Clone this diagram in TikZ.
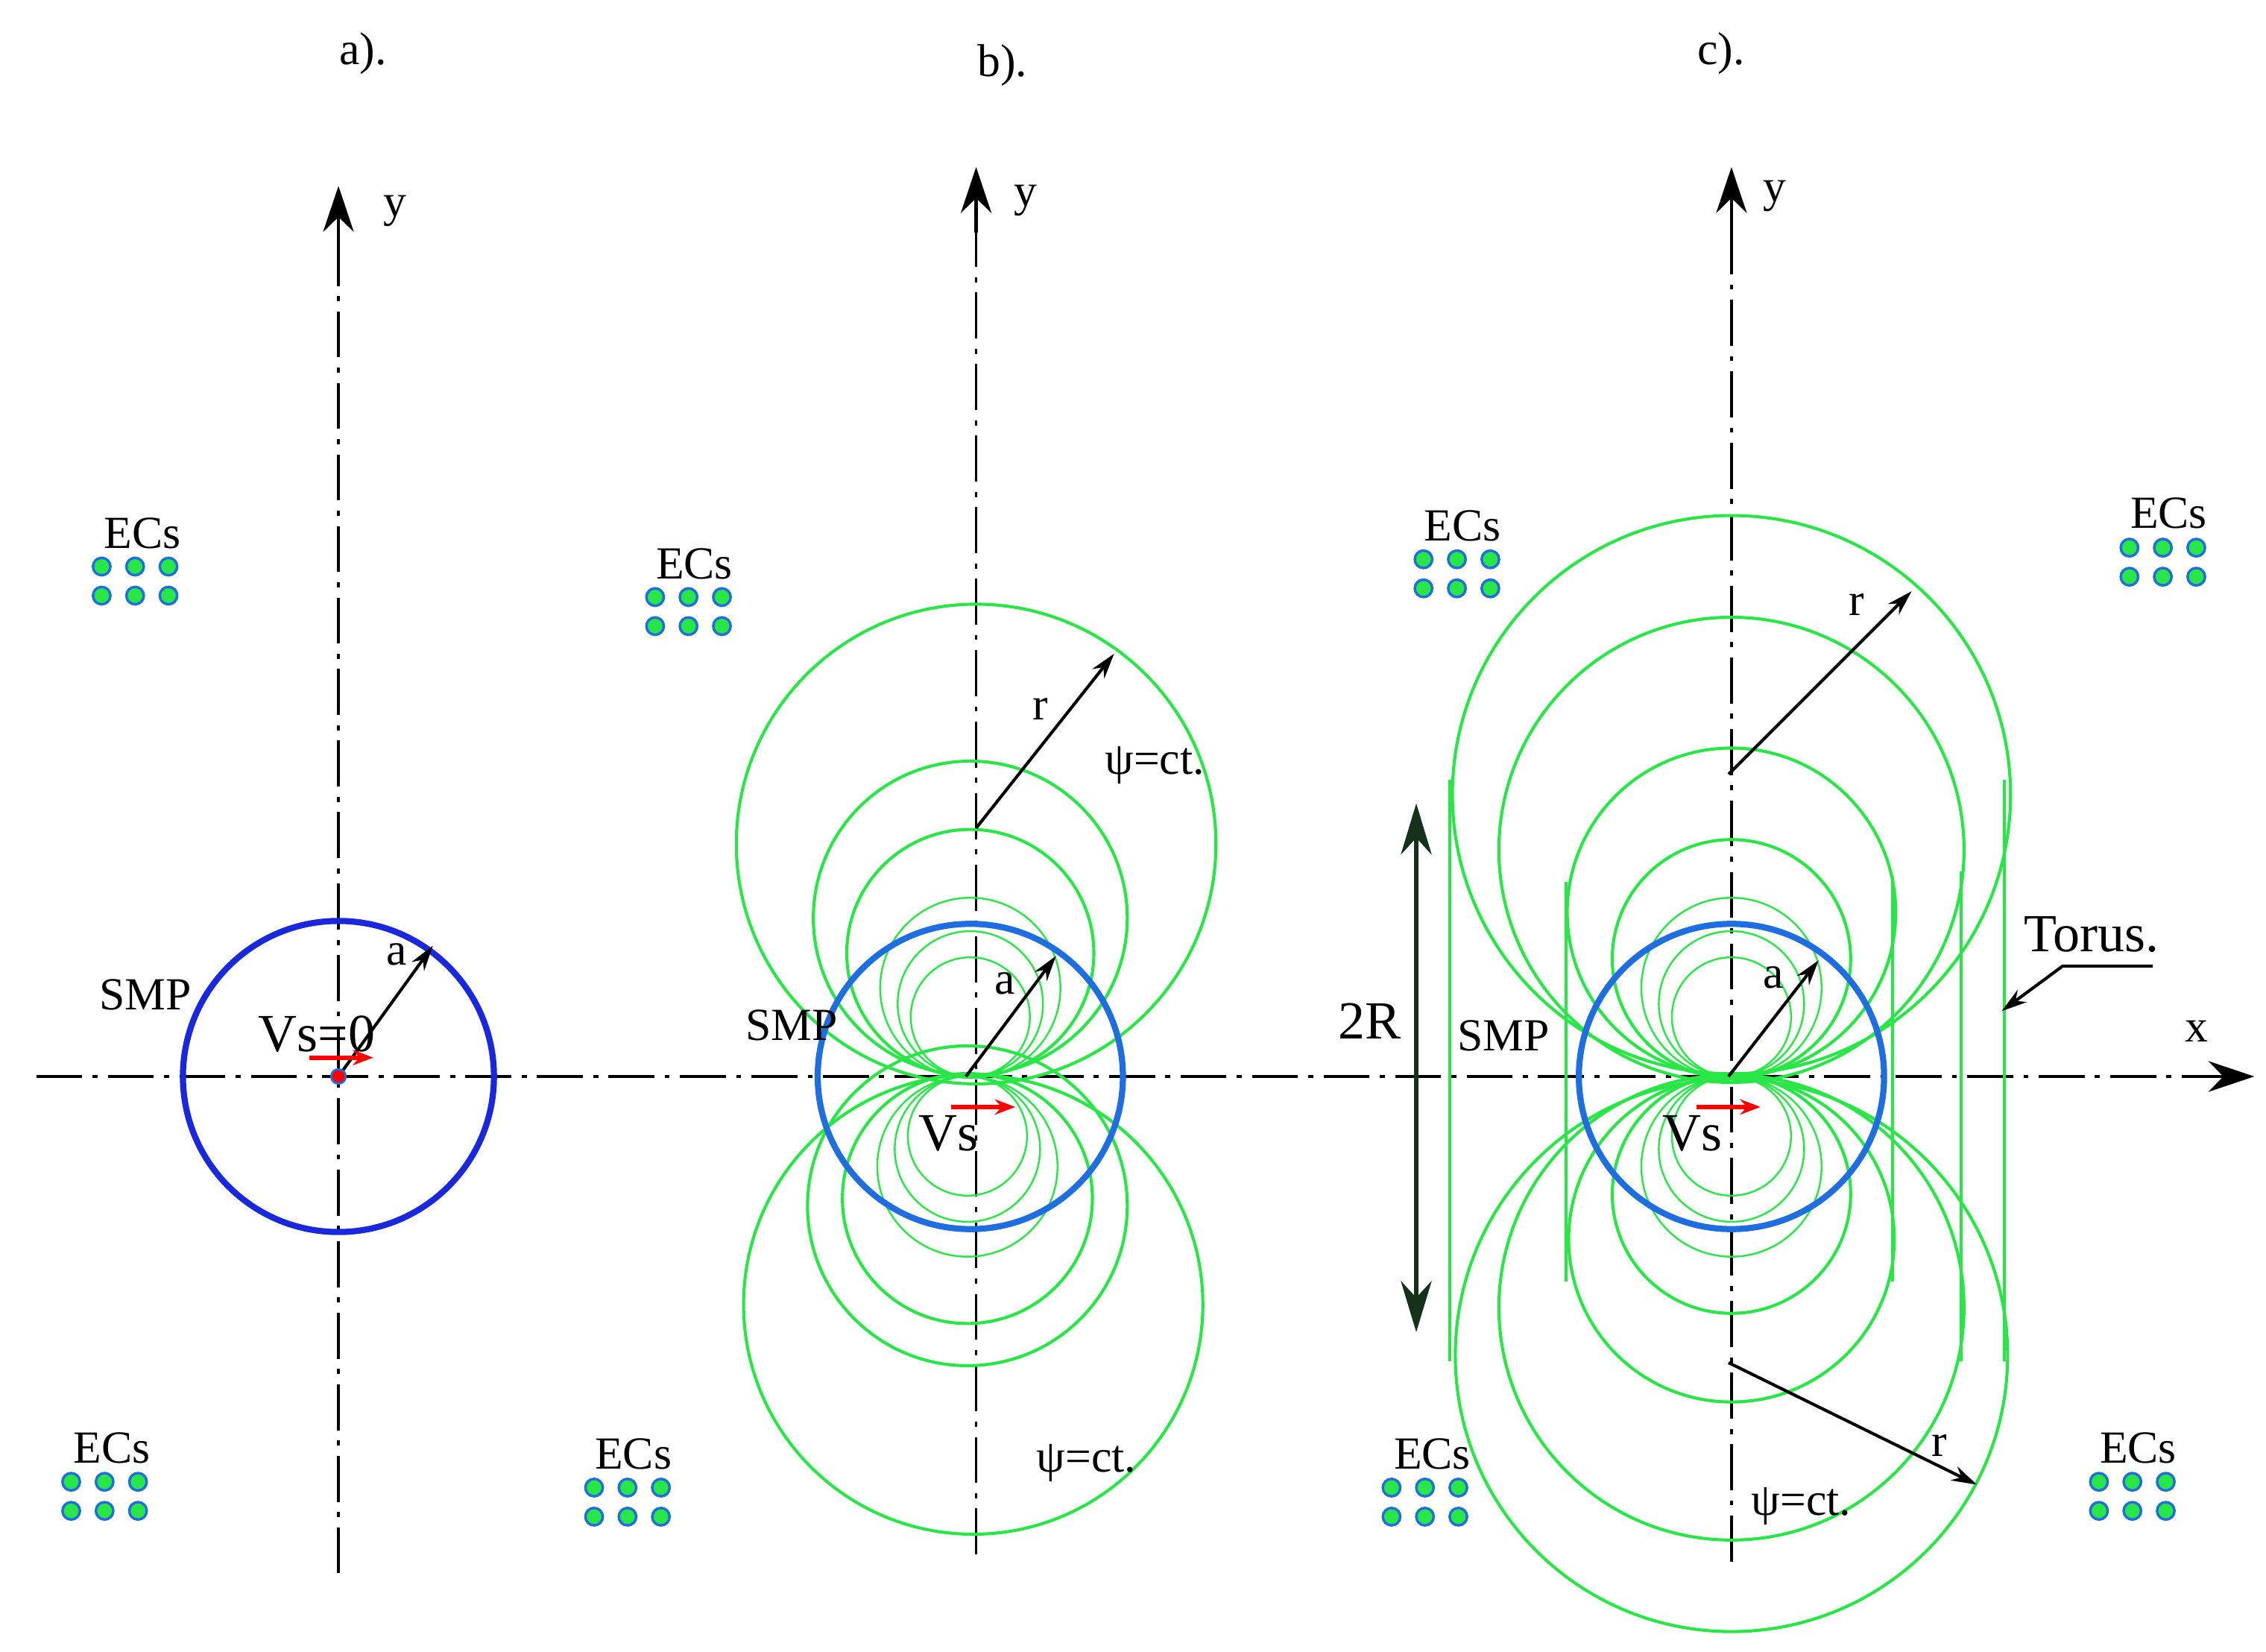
\documentclass[tikz,border=0pt]{standalone}
\usepackage{fontspec}
\setmainfont{Liberation Serif}
\usetikzlibrary{arrows.meta}
\definecolor{gr}{RGB}{40,230,70}
\definecolor{bl}{RGB}{30,110,225}
\definecolor{bld}{RGB}{25,40,220}
\definecolor{dgr}{RGB}{20,50,25}
\begin{document}
\begin{tikzpicture}[x=0.01cm,y=-0.01cm,
  ax/.style={line width=0.5pt,dash pattern=on 9pt off 2pt on 1pt off 2pt},
  tip/.style={-{Stealth[length=9pt,width=6pt]}},
  arr/.style={-{Stealth[length=5pt,width=3pt]},line width=0.6pt},
  red arr/.style={-{Stealth[length=4pt,width=3pt]},red,line width=0.9pt},
  gc/.style={gr,line width=0.6pt},
  gt/.style={gr,line width=0.35pt},
  lab/.style={font=\fontsize{9}{10}\selectfont,inner sep=0},
  big/.style={font=\fontsize{10.5}{12}\selectfont,inner sep=0},
  dot/.style={circle,fill=gr,draw=bl,line width=0.5pt,minimum size=0.12cm,inner sep=0}]
\useasboundingbox (0,0) rectangle (1560,1137);
% ECs
\foreach \n/\lx/\ly/\x/\y in {e1/98/367/70/390, e2/478/388/451/411, e3/77/997/49/1020, e4/436/1001/409/1024, e5/1007/362/980/385, e6/1493/353/1466/377, e7/986/1001/958/1024, e8/1472/997/1445/1020}{
  \node[lab] (\n) at (\lx,\ly) {ECs};
  \foreach \i in {0,1,2}{\foreach \j in {0,1}{
    \node[dot] (\n d\i\j) at (\x+23*\i,\y+20*\j) {};}}
}
% titles
\node[lab] (ta) at (250,37) {a).};
\node[lab] (tb) at (690,45) {b).};
\node[lab] (tc) at (1185,37) {c).};
% x axis
\coordinate (x0) at (25,741); \coordinate (x1) at (1552,741);
\draw[ax] (x0) -- (1515,741);
\draw[tip,line width=0.6pt] (1510,741) -- (x1);
\node[lab] (xl) at (1512,710) {x};
% panel a
\coordinate (ay0) at (233,1083); \coordinate (ay1) at (233,128);
\draw[ax] (ay0) -- (233,165);
\draw[tip,line width=0.6pt] (233,170) -- (ay1);
\node[lab] (yla) at (272,145) {y};
\coordinate (oa) at (233,741);
\draw[bld,line width=1.2pt] (oa) circle[radius=1.07cm];
\coordinate (aa) at (298,651);
\draw[arr] (oa) -- (aa);
\node[lab] (la) at (273,657) {a};
\node[big] (vs0) at (218,712) {Vs=0};
\node[lab] (smpa) at (100,685) {SMP};
\node[circle,fill=red,draw=bl,minimum size=0.1cm,inner sep=0] (da) at (oa) {};
\coordinate (ra0) at (213,728); \coordinate (ra1) at (257,728);
\draw[red arr] (ra0) -- (ra1);
% panel b
\coordinate (by0) at (672,1070); \coordinate (by1) at (672,115);
\draw[ax] (by0) -- (672,155);
\draw[tip,line width=0.6pt] (672,160) -- (by1);
\node[lab] (ylb) at (706,138) {y};
\coordinate (ob) at (668,741);
\draw[gc] (672,581) circle[radius=1.65cm];
\draw[gc] (668,632) circle[radius=1.08cm];
\draw[gc] (668,656) circle[radius=0.85cm];
\draw[gt] (668,680) circle[radius=0.62cm];
\draw[gt] (668,691) circle[radius=0.50cm];
\draw[gt] (668,700) circle[radius=0.41cm];
\draw[gc] (670,898) circle[radius=1.58cm];
\draw[gc] (666,830) circle[radius=1.10cm];
\draw[gc] (666,825) circle[radius=0.86cm];
\draw[gt] (666,803) circle[radius=0.62cm];
\draw[gt] (666,791) circle[radius=0.50cm];
\draw[gt] (666,782) circle[radius=0.41cm];
\draw[bl,line width=1.2pt] (ob) circle[radius=1.05cm];
\coordinate (rb0) at (672,570); \coordinate (rb1) at (767,450);
\draw[arr] (rb0) -- (rb1);
\node[lab] (lrb) at (716,488) {r};
\node[lab] (psb1) at (795,527) {ψ=ct.};
\node[lab] (psb2) at (748,1007) {ψ=ct.};
\coordinate (ab) at (727,658);
\draw[arr] (665,741) -- (ab);
\node[lab] (lab) at (692,677) {a};
\node[lab] (smpb) at (545,706) {SMP};
\node[big] (vsb) at (653,780) {Vs};
\coordinate (rr0) at (655,762); \coordinate (rr1) at (699,762);
\draw[red arr] (rr0) -- (rr1);
% panel c
\coordinate (cy0) at (1192,1075); \coordinate (cy1) at (1192,115);
\draw[ax] (cy0) -- (1192,155);
\draw[tip,line width=0.6pt] (1192,160) -- (cy1);
\node[lab] (ylc) at (1222,135) {y};
\coordinate (oc) at (1192,741);
\draw[gc] (1192,547) circle[radius=1.92cm];
\draw[gc] (1192,585) circle[radius=1.60cm];
\draw[gc] (1192,628) circle[radius=1.13cm];
\draw[gc] (1192,660) circle[radius=0.82cm];
\draw[gt] (1192,680) circle[radius=0.62cm];
\draw[gt] (1192,691) circle[radius=0.50cm];
\draw[gt] (1192,700) circle[radius=0.41cm];
\draw[gc] (1192,933) circle[radius=1.90cm];
\draw[gc] (1192,900) circle[radius=1.60cm];
\draw[gc] (1192,853) circle[radius=1.12cm];
\draw[gc] (1192,822) circle[radius=0.82cm];
\draw[gt] (1192,803) circle[radius=0.62cm];
\draw[gt] (1192,791) circle[radius=0.50cm];
\draw[gt] (1192,782) circle[radius=0.41cm];
\draw[gc] (998,537) -- (998,937);
\draw[gc] (1078,607) -- (1078,882);
\draw[gc] (1303,603) -- (1303,882);
\draw[gc] (1350,600) -- (1350,937);
\draw[gc] (1380,537) -- (1380,937);
\draw[bl,line width=1.2pt] (oc) circle[radius=1.05cm];
\coordinate (tr0) at (975,553); \coordinate (tr1) at (975,917);
\draw[dgr,line width=1pt,{Stealth[length=10pt,width=6pt]}-{Stealth[length=10pt,width=6pt]}] (tr0) -- (tr1);
\node[big] (l2r) at (943,703) {2R};
\node[big] (tor) at (1440,643) {Torus.};
\coordinate (tk0) at (1482,665); \coordinate (tk1) at (1420,665); \coordinate (tk2) at (1378,696);
\draw[arr] (tk0) -- (tk1) -- (tk2);
\coordinate (rc0) at (1190,533); \coordinate (rc1) at (1316,407);
\draw[arr] (rc0) -- (rc1);
\node[lab] (lrc) at (1278,416) {r};
\coordinate (rd0) at (1190,938); \coordinate (rd1) at (1361,1022);
\draw[arr] (rd0) -- (rd1);
\node[lab] (lrd) at (1335,995) {r};
\coordinate (ac) at (1252,661);
\draw[arr] (1190,741) -- (ac);
\node[lab] (lac) at (1221,673) {a};
\node[lab] (smpc) at (1035,713) {SMP};
\node[big] (vsc) at (1165,780) {Vs};
\coordinate (rs0) at (1168,762); \coordinate (rs1) at (1212,762);
\draw[red arr] (rs0) -- (rs1);
\node[lab] (psc) at (1240,1037) {ψ=ct.};
\end{tikzpicture}
\end{document}
